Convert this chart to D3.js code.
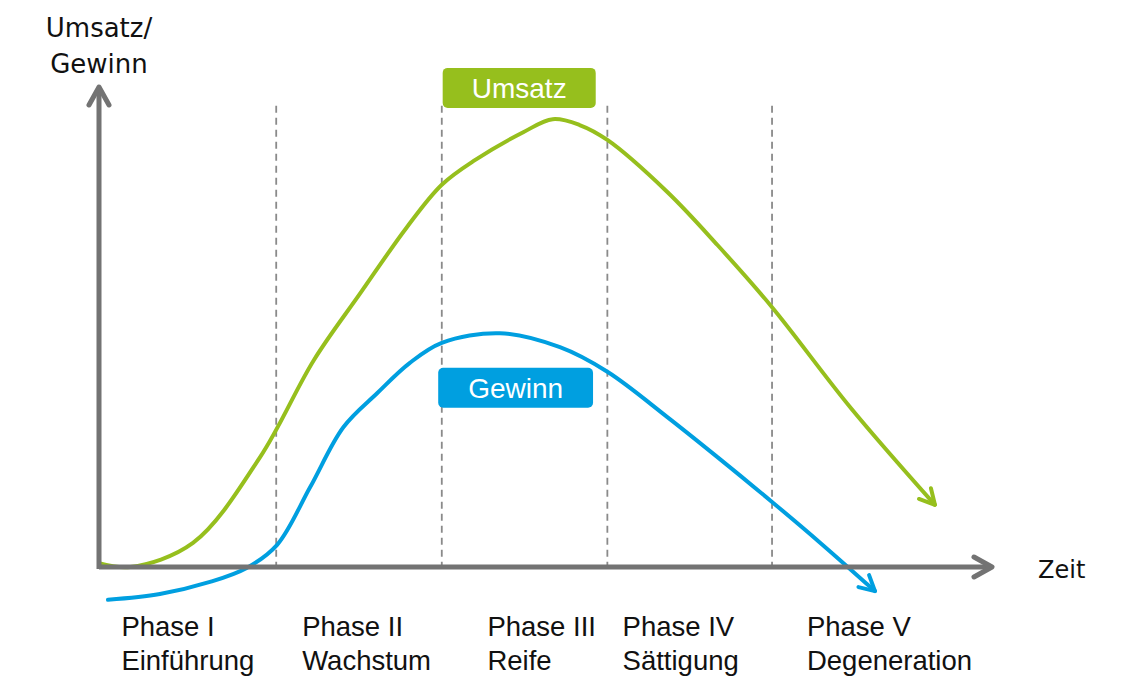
<!DOCTYPE html>
<html>
<head>
<meta charset="utf-8">
<script src="https://cdn.jsdelivr.net/npm/d3@7/dist/d3.min.js"></script>
<style>
  html, body { margin: 0; padding: 0; background: #fff; }
  svg { display: block; }
</style>
</head>
<body>
<svg id="chart" width="1128" height="696"></svg>
<script>
// ---- Data (x: Zeit 0..100, y: Umsatz/Gewinn 0..100) ----
const umsatzX = [0, 3.5, 10.5, 18.0, 24.0, 29.2, 34.4, 38.3, 42.0, 47.4, 50.7, 53.7, 56.8, 63.5, 69.1, 75.2, 84.0, 93.4];
const umsatzY = [0.8, 0, 5.0, 22.8, 42.9, 56.8, 70.5, 79.3, 84.4, 90.2, 92.9, 91.7, 88.6, 77.8, 66.8, 53.9, 33.0, 12.9];
const gewinnX = [1.0, 6.8, 12.4, 16.5, 19.9, 23.6, 27.3, 31.1, 34.7, 38.3, 44.8, 51.5, 56.8, 63.5, 69.1, 75.2, 80.6, 86.7];
const gewinnY = [-6.8, -5.6, -3.1, -0.2, 4.6, 16.6, 29.0, 36.1, 42.3, 46.5, 48.5, 45.6, 40.5, 31.1, 22.8, 13.5, 5.0, -5.0];
const phaseBounds = [19.8, 38.3, 56.8, 75.2];
const phaseStarts = [2.5, 22.7, 43.4, 58.5, 79.1];
const phaseNames = ["Phase I", "Phase II", "Phase III", "Phase IV", "Phase V"];
const phaseDesc = ["Einführung", "Wachstum", "Reife", "Sättigung", "Degeneration"];
const seriesLabels = ["Umsatz", "Gewinn"];
const axisLabelY = ["Umsatz/", "Gewinn"];
const axisLabelX = "Zeit";

const GREEN = "#96bf1d";
const BLUE = "#009fe0";
const AXIS = "#737373";

const svg = d3.select("#chart");
const x = d3.scaleLinear().domain([0, 100]).range([99, 994]);
const y = d3.scaleLinear().domain([0, 100]).range([567, 85]);

// markers
const defs = svg.append("defs");
function chevron(id, color, len, half, width) {
  defs.append("marker")
    .attr("id", id)
    .attr("markerUnits", "userSpaceOnUse")
    .attr("orient", "auto")
    .attr("refX", 0).attr("refY", 0)
    .attr("markerWidth", 1).attr("markerHeight", 1)
    .attr("overflow", "visible")
    .append("path")
    .attr("d", `M${-len},${-half} L0,0 L${-len},${half}`)
    .attr("fill", "none")
    .attr("stroke", color)
    .attr("stroke-width", width)
    .attr("stroke-linecap", "round")
    .attr("stroke-linejoin", "round");
}
chevron("arrAxis", AXIS, 18, 10, 5);
chevron("arrGreen", GREEN, 15, 8, 4);
chevron("arrBlue", BLUE, 15, 8, 4);

// dashed phase lines
svg.append("g").selectAll("line")
  .data(phaseBounds).join("line")
  .attr("x1", d => x(d)).attr("x2", d => x(d))
  .attr("y1", y(95.7)).attr("y2", y(0))
  .attr("stroke", "#8a8a8a")
  .attr("stroke-width", 1.8)
  .attr("stroke-dasharray", "7,5");

// curves
const line = d3.line().x(d => x(d[0])).y(d => y(d[1])).curve(d3.curveCatmullRom.alpha(0.5));
const umsatz = umsatzX.map((v, i) => [v, umsatzY[i]]);
const gewinn = gewinnX.map((v, i) => [v, gewinnY[i]]);

svg.append("path").datum(umsatz)
  .attr("d", line).attr("fill", "none")
  .attr("stroke", GREEN).attr("stroke-width", 4)
  .attr("stroke-linecap", "round")
  .attr("marker-end", "url(#arrGreen)");

svg.append("path").datum(gewinn)
  .attr("d", line).attr("fill", "none")
  .attr("stroke", BLUE).attr("stroke-width", 4)
  .attr("stroke-linecap", "round")
  .attr("marker-end", "url(#arrBlue)");

// axes
svg.append("line")
  .attr("x1", x(0)).attr("y1", y(0)).attr("x2", x(100) - 2).attr("y2", y(0))
  .attr("stroke", AXIS).attr("stroke-width", 5)
  .attr("marker-end", "url(#arrAxis)");
svg.append("line")
  .attr("x1", x(0)).attr("y1", y(0) + 2).attr("x2", x(0)).attr("y2", y(100) + 2)
  .attr("stroke", AXIS).attr("stroke-width", 5)
  .attr("marker-end", "url(#arrAxis)");

// axis labels
svg.append("text").attr("x", x(0)).attr("y", 37)
  .attr("text-anchor", "middle")
  .attr("font-family", "DejaVu Sans, Verdana, sans-serif").attr("font-size", 26)
  .attr("fill", "#111").text(axisLabelY[0]);
svg.append("text").attr("x", x(0)).attr("y", 73)
  .attr("text-anchor", "middle")
  .attr("font-family", "DejaVu Sans, Verdana, sans-serif").attr("font-size", 26)
  .attr("fill", "#111").text(axisLabelY[1]);
svg.append("text").attr("x", 1038).attr("y", 578)
  .attr("font-family", "DejaVu Sans, Verdana, sans-serif").attr("font-size", 24)
  .attr("fill", "#111").text(axisLabelX);

// series label boxes
const boxes = [
  { label: seriesLabels[0], color: GREEN, x0: 38.4, x1: 55.5, yc: 99.4 },
  { label: seriesLabels[1], color: BLUE, x0: 37.9, x1: 55.2, yc: 37.2 }
];
const bg = svg.append("g").selectAll("g").data(boxes).join("g");
bg.append("rect")
  .attr("x", d => x(d.x0)).attr("width", d => x(d.x1) - x(d.x0))
  .attr("y", d => y(d.yc) - 20).attr("height", 40)
  .attr("rx", 5).attr("fill", d => d.color);
bg.append("text")
  .attr("x", d => (x(d.x0) + x(d.x1)) / 2)
  .attr("y", d => y(d.yc) + 10)
  .attr("text-anchor", "middle")
  .attr("font-family", "Liberation Sans, Arial, sans-serif")
  .attr("font-size", 28).attr("fill", "#fff")
  .text(d => d.label);

// phase labels
const pg = svg.append("g").selectAll("g").data(phaseNames).join("g");
pg.append("text")
  .attr("x", (d, i) => x(phaseStarts[i])).attr("y", 636)
  .attr("font-family", "Liberation Sans, Arial, sans-serif")
  .attr("font-size", 27.5).attr("fill", "#111")
  .text(d => d);
pg.append("text")
  .attr("x", (d, i) => x(phaseStarts[i])).attr("y", 670)
  .attr("font-family", "Liberation Sans, Arial, sans-serif")
  .attr("font-size", 27.5).attr("fill", "#111")
  .text((d, i) => phaseDesc[i]);
</script>
</body>
</html>
